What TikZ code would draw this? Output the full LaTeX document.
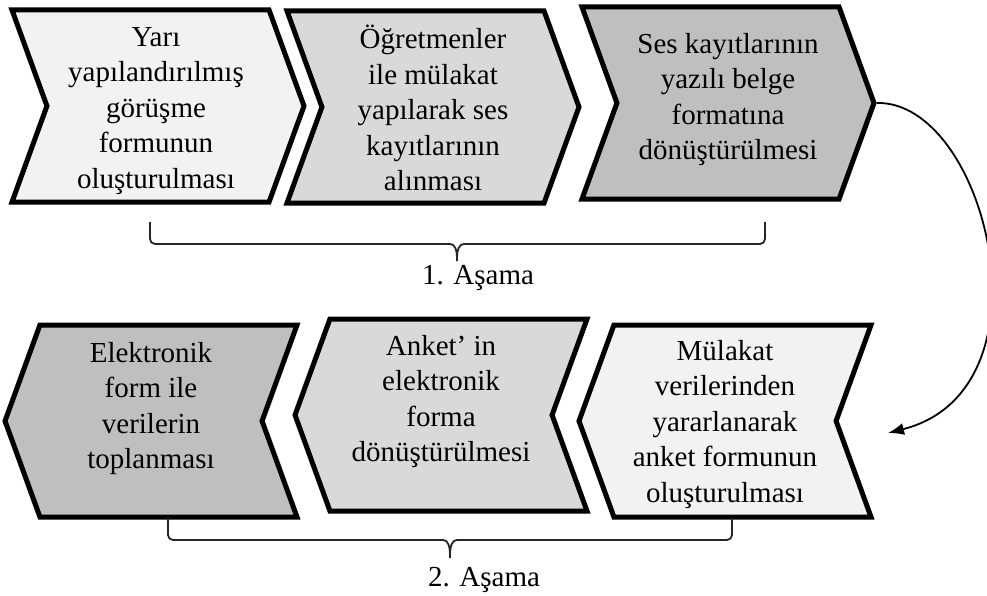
\documentclass[tikz,border=0pt]{standalone}
\usepackage{fontspec}
\setmainfont{Liberation Serif}
\usepackage{tikz}
\usetikzlibrary{shapes.symbols, arrows.meta, positioning}
\definecolor{lightfill}{HTML}{F2F2F2}
\definecolor{midfill}{HTML}{D9D9D9}
\definecolor{darkfill}{HTML}{BFBFBF}
\tikzset{
  chev/.style={signal, draw=black, line width=5pt, signal pointer angle=140,
               minimum width=292pt, minimum height=192pt, inner sep=0pt},
  chevR/.style={chev, signal to=east, signal from=west},
  chevL/.style={chev, signal to=west, signal from=east},
  txt/.style={align=center, anchor=north, inner sep=0pt, font=\fontsize{29}{35.5}\selectfont},
  lbl/.style={anchor=base, inner sep=0pt, font=\fontsize{29}{35.5}\selectfont},
  brace/.style={draw=black!85, line width=1.8pt, rounded corners=5pt},
  arr/.style={draw=black, line width=1.8pt, -{Latex[length=16pt,width=12pt]}}
}

\begin{document}
\begin{tikzpicture}[x=1pt, y=-1pt]
  \useasboundingbox (0,0) rectangle (987,596);

  % 1. asama
  \node (C1) [chevR, fill=lightfill] at (158,106) {};
  \node (C2) [chevR, fill=midfill] at (433,107) {};
  \node (C3) [chevR, fill=darkfill] at (728,103) {};
  \node (T1) [txt] at (156,27) {Yarı\\yapılandırılmış\\görüşme\\formunun\\oluşturulması};
  \node (T2) [txt] at (433,25) {Öğretmenler\\ile mülakat\\yapılarak ses\\kayıtlarının\\alınması};
  \node (T3) [txt] at (728,33) {Ses kayıtlarının\\yazılı belge\\formatına\\dönüştürülmesi};

  \coordinate (B1L) at (150,222);
  \coordinate (B1R) at (765,222);
  \draw[brace] (B1L) -- (150,244) -- (445,244)
    .. controls (455,244) and (457,250) .. (457,264)
    .. controls (457,250) and (459,244) .. (469,244) -- (765,244) -- (B1R);
  \node (S1) [lbl] at (478,284) {1. Aşama};

  % 2. asama
  \node (C4) [chevL, fill=darkfill] at (151,421) {};
  \node (C5) [chevL, fill=midfill] at (441,415) {};
  \node (C6) [chevL, fill=lightfill] at (725,421) {};
  \node (T4) [txt] at (151,342) {Elektronik\\form ile\\verilerin\\toplanması};
  \node (T5) [txt] at (441,335) {Anket’ in\\elektronik\\forma\\dönüştürülmesi};
  \node (T6) [txt] at (725,340) {Mülakat\\verilerinden\\yararlanarak\\anket formunun\\oluşturulması};

  \coordinate (B2L) at (168,518);
  \coordinate (B2R) at (732,518);
  \draw[brace] (B2L) -- (168,540) -- (438,540)
    .. controls (448,540) and (450,546) .. (450,561)
    .. controls (450,546) and (452,540) .. (462,540) -- (732,540) -- (B2R);
  \node (S2) [lbl] at (484,586) {2. Aşama};

  % gecis
  \coordinate (ArrEnd) at (888,433);
  \draw[arr] (C3.east) .. controls (986,100) and (1058,390) .. (ArrEnd);
\end{tikzpicture}
\end{document}
